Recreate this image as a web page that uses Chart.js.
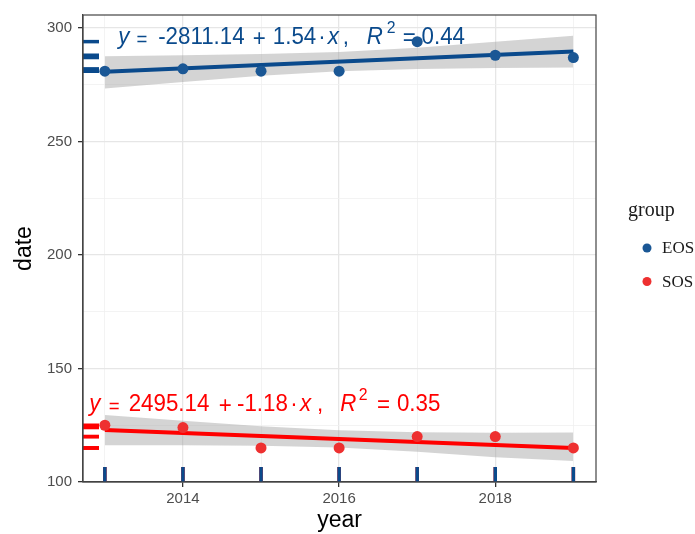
<!DOCTYPE html>
<html>
<head>
<meta charset="utf-8">
<script src="https://cdn.jsdelivr.net/npm/chart.js@4.4.1/dist/chart.umd.min.js"></script>
<style>
html, body { margin: 0; padding: 0; background: #fff; }
#wrap { width: 695px; height: 534px; }
</style>
</head>
<body>
<div id="wrap"><canvas id="chart" width="695" height="534"></canvas></div>
<script>
// data
const years = [2013, 2014, 2015, 2016, 2017, 2018, 2019];
const eosDates = [281, 282, 281, 281, 294, 288, 287];
const sosDates = [125, 124, 115, 115, 120, 120, 115];

// fitted lines (ends) and confidence band
const fitYears = [2013, 2019];
const eosFit = [280.7, 289.6];
const sosFit = [122.9, 115.0];
const eosUpper = [287.6, 288.0, 288.6, 289.4, 291.3, 294.0, 296.6];
const eosLower = [273.4, 276.2, 279.0, 281.0, 281.9, 282.4, 282.6];
const sosUpper = [129.5, 127.0, 124.6, 122.8, 121.9, 121.7, 121.8];
const sosLower = [116.2, 116.2, 116.0, 115.2, 113.3, 110.9, 109.2];

const groups = ["EOS", "SOS"];
const xTickLabels = [2014, 2016, 2018];
const yTickLabels = [100, 150, 200, 250, 300];

// equation pieces: text, offset from label start (px), kind
const eosLabel = [
    ["y", 0, "i"], ["=", 18.4, "e"], ["-2811.14", 40, "n"], ["+", 134.7, "p"], ["1.54", 154.7, "n"],
    ["\u00b7", 200, "n"], ["x", 209.7, "i"], [",", 224.7, "n"], ["R", 248.7, "i"], ["2", 268.7, "s"],
    ["=", 284.7, "q"], ["0.44", 303.4, "n"]
];
const sosLabel = [
    ["y", 0, "i"], ["=", 19.4, "e"], ["2495.14", 39.4, "n"], ["+", 129.4, "p"], ["-1.18", 147.7, "n"],
    ["\u00b7", 201, "n"], ["x", 210.7, "i"], [",", 227.7, "n"], ["R", 251, "i"], ["2", 269.4, "s"],
    ["=", 287.7, "q"], ["0.35", 307.7, "n"]
];
const eosLabelAt = [2013.17, 293.0];
const sosLabelAt = [2012.80, 131.3];

const eosColor = "#0a4a8c";
const sosColor = "#ff0000";
const eosPoint = "#1a5795";
const sosPoint = "#ee3030";
const bandColor = "rgba(160,160,160,0.45)";

const toXY = (xs, ys) => xs.map((v, i) => ({ x: v, y: ys[i] }));

function drawEquation(ctx, x, y, pieces, color) {
    const fam = '"Liberation Sans", Arial, sans-serif';
    pieces.forEach(([text, dx, kind]) => {
        ctx.save();
        ctx.fillStyle = color;
        ctx.textBaseline = "alphabetic";
        ctx.textAlign = "left";
        let dy = 0;
        let font = "24px " + fam;
        if (kind === "i") font = "italic 24px " + fam;
        if (kind === "s") { font = "17px " + fam; dy = -11; }
        if (kind === "e") { font = "20px " + fam; dy = 2; }
        if (kind === "p") { dy = 2.5; }
        if (kind === "q") { dy = 1.5; }
        ctx.font = font;
        ctx.translate(x + dx, y + dy);
        ctx.scale(0.93, 1);
        ctx.fillText(text, 0, 0);
        ctx.restore();
    });
}

const extras = {
    id: "extras",
    beforeDatasetsDraw(chart) {
        const { ctx, scales: { x, y } } = chart;
        drawEquation(ctx, x.getPixelForValue(eosLabelAt[0]), y.getPixelForValue(eosLabelAt[1]), eosLabel, eosColor);
        drawEquation(ctx, x.getPixelForValue(sosLabelAt[0]), y.getPixelForValue(sosLabelAt[1]), sosLabel, sosColor);
    },
    afterDatasetsDraw(chart) {
        const { ctx, chartArea: a, scales: { x, y } } = chart;
        ctx.save();
        ctx.lineWidth = 3.5;
        [[sosDates, sosColor], [eosDates, eosColor]].forEach(([vals, col]) => {
            ctx.strokeStyle = col;
            vals.forEach((v, i) => {
                const py = y.getPixelForValue(v);
                ctx.beginPath();
                ctx.moveTo(a.left, py);
                ctx.lineTo(a.left + 16, py);
                ctx.stroke();
                const px = x.getPixelForValue(years[i]);
                ctx.beginPath();
                ctx.moveTo(px, a.bottom);
                ctx.lineTo(px, a.bottom - 15);
                ctx.stroke();
            });
        });
        ctx.restore();
    },
    afterDraw(chart) {
        const { ctx, chartArea: a } = chart;
        ctx.save();
        ctx.strokeStyle = "#444";
        ctx.lineWidth = 1.2;
        ctx.strokeRect(a.left, a.top, a.right - a.left, a.bottom - a.top);

        // legend
        ctx.fillStyle = "#1a1a1a";
        ctx.textBaseline = "middle";
        ctx.font = '20px "Liberation Serif", "Times New Roman", serif';
        ctx.fillText("group", 628, 211);
        ctx.font = '17px "Liberation Serif", "Times New Roman", serif';
        groups.forEach((g, i) => {
            const cy = 248 + i * 33.5;
            ctx.beginPath();
            ctx.arc(647, cy, 4.5, 0, Math.PI * 2);
            ctx.fillStyle = i === 0 ? eosPoint : sosPoint;
            ctx.fill();
            ctx.fillStyle = "#1a1a1a";
            ctx.fillText(g, 662, cy + 1);
        });
        ctx.restore();
    }
};

const context = document.getElementById("chart").getContext("2d");
const chart = new Chart(context, {
    type: "line",
    data: {
        datasets: [
            {
                label: "EOS",
                data: toXY(years, eosDates),
                showLine: false,
                pointRadius: 5.5,
                pointBackgroundColor: eosPoint,
                pointBorderWidth: 0
            },
            {
                label: "SOS",
                data: toXY(years, sosDates),
                showLine: false,
                pointRadius: 5.5,
                pointBackgroundColor: sosPoint,
                pointBorderWidth: 0
            },
            {
                label: "EOS fit",
                data: toXY(fitYears, eosFit),
                borderColor: eosColor,
                borderWidth: 4,
                pointRadius: 0,
                fill: false
            },
            {
                label: "SOS fit",
                data: toXY(fitYears, sosFit),
                borderColor: sosColor,
                borderWidth: 4,
                pointRadius: 0,
                fill: false
            },
            {
                label: "EOS upper",
                data: toXY(years, eosUpper),
                borderWidth: 0,
                pointRadius: 0,
                backgroundColor: bandColor,
                fill: "+1"
            },
            {
                label: "EOS lower",
                data: toXY(years, eosLower),
                borderWidth: 0,
                pointRadius: 0,
                fill: false
            },
            {
                label: "SOS upper",
                data: toXY(years, sosUpper),
                borderWidth: 0,
                pointRadius: 0,
                backgroundColor: bandColor,
                fill: "+1"
            },
            {
                label: "SOS lower",
                data: toXY(years, sosLower),
                borderWidth: 0,
                pointRadius: 0,
                fill: false
            }
        ]
    },
    options: {
        responsive: false,
        animation: false,
        devicePixelRatio: 1,
        layout: { padding: { top: 15, right: 99, left: 0, bottom: 0 } },
        plugins: {
            legend: { display: false },
            tooltip: { enabled: false }
        },
        scales: {
            x: {
                type: "linear",
                min: 2012.72,
                max: 2019.29,
                afterFit: s => { s.height = 52; },
                ticks: {
                    stepSize: 1,
                    includeBounds: false,
                    autoSkip: false,
                    maxRotation: 0,
                    padding: 3,
                    color: "#4d4d4d",
                    font: { family: '"Liberation Sans", Arial, sans-serif', size: 15 },
                    callback: v => xTickLabels.includes(v) ? String(v) : ""
                },
                grid: {
                    color: c => xTickLabels.includes(c.tick.value) ? "#e6e6e6" : "#f0f0f0",
                    lineWidth: c => xTickLabels.includes(c.tick.value) ? 1.3 : 0.8,
                    tickColor: c => xTickLabels.includes(c.tick.value) ? "#333" : "rgba(0,0,0,0)",
                    tickLength: 5
                },
                border: { display: true, color: "#444", width: 1.2 },
                title: {
                    display: true,
                    text: "year",
                    color: "#000",
                    padding: { top: 0, bottom: 0 },
                    font: { family: '"Liberation Sans", Arial, sans-serif', size: 23 }
                }
            },
            y: {
                min: 100,
                max: 305.73,
                afterFit: s => { s.width = 83; },
                ticks: {
                    stepSize: 25,
                    includeBounds: false,
                    padding: 6,
                    color: "#4d4d4d",
                    font: { family: '"Liberation Sans", Arial, sans-serif', size: 15 },
                    callback: v => yTickLabels.includes(v) ? String(v) : ""
                },
                grid: {
                    color: c => yTickLabels.includes(c.tick.value) ? "#e6e6e6" : "#f0f0f0",
                    lineWidth: c => yTickLabels.includes(c.tick.value) ? 1.3 : 0.8,
                    tickColor: c => yTickLabels.includes(c.tick.value) ? "#333" : "rgba(0,0,0,0)",
                    tickLength: 5
                },
                border: { display: true, color: "#444", width: 1.2 },
                title: {
                    display: true,
                    text: "date",
                    color: "#000",
                    padding: { top: 11, bottom: 0 },
                    font: { family: '"Liberation Sans", Arial, sans-serif', size: 23 }
                }
            }
        }
    },
    plugins: [extras]
});
</script>
</body>
</html>
